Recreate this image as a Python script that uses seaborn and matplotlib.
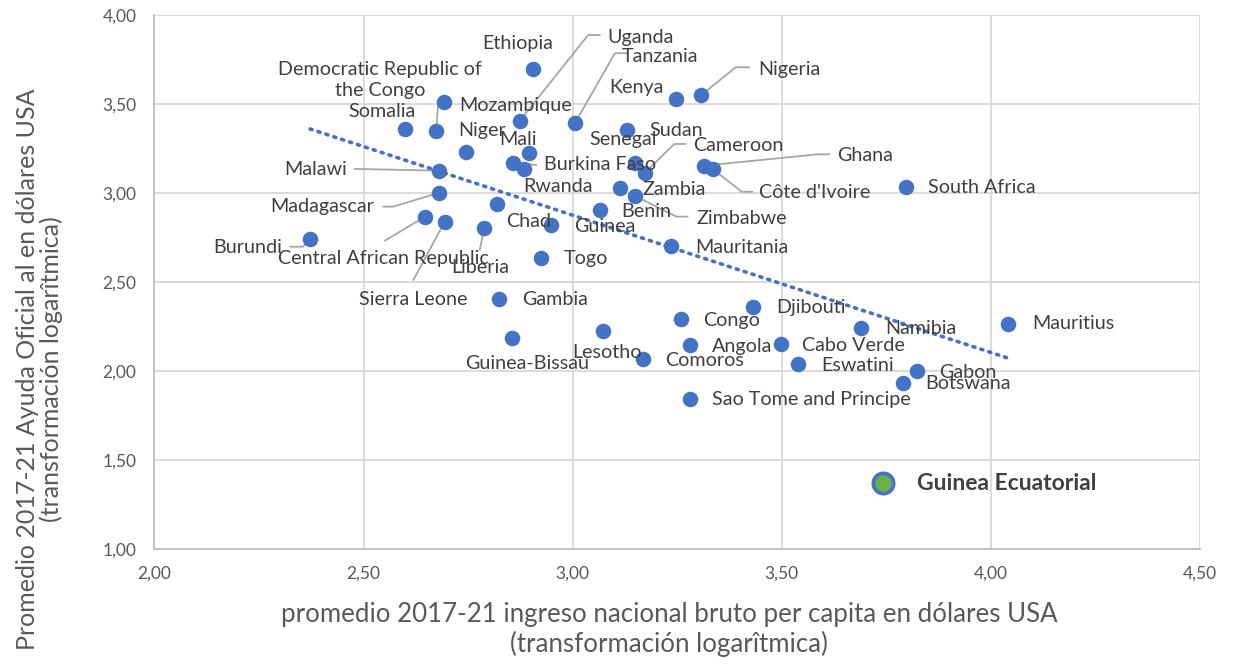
import numpy as np
import pandas as pd
import matplotlib
matplotlib.use("Agg")
import matplotlib.pyplot as plt
from matplotlib.ticker import FuncFormatter
import seaborn as sns

# ---------------- data ----------------
countries = ["Ethiopia", "Democratic Republic of\nthe Congo", "Somalia", "Mozambique", "Uganda",
             "Tanzania", "Sudan", "Kenya", "Nigeria", "Niger", "Mali", "Burkina Faso", "Rwanda",
             "Senegal", "Cameroon", "Ghana", "Côte d'Ivoire", "Malawi", "Madagascar", "Zambia",
             "Zimbabwe", "South Africa", "Chad", "Benin", "Central African Republic",
             "Sierra Leone", "Burundi", "Liberia", "Guinea", "Togo", "Mauritania", "Gambia",
             "Djibouti", "Congo", "Lesotho", "Namibia", "Mauritius", "Guinea-Bissau", "Angola",
             "Cabo Verde", "Comoros", "Eswatini", "Gabon", "Botswana", "Sao Tome and Principe"]
gni_log = [2.905, 2.693, 2.599, 2.674, 2.873,
           3.006, 3.129, 3.248, 3.307, 2.745, 2.895, 2.858, 2.883,
           3.149, 3.172, 3.314, 3.335, 2.681, 2.681, 3.113,
           3.149, 3.797, 2.818, 3.065, 2.647,
           2.694, 2.372, 2.788, 2.949, 2.925, 3.234, 2.824,
           3.431, 3.260, 3.073, 3.690, 4.040, 2.856, 3.280,
           3.497, 3.167, 3.538, 3.823, 3.791, 3.280]
oda_log = [3.698, 3.511, 3.363, 3.350, 3.406,
           3.397, 3.356, 3.529, 3.551, 3.233, 3.228, 3.172, 3.137,
           3.168, 3.114, 3.155, 3.136, 3.127, 3.003, 3.028,
           2.985, 3.034, 2.938, 2.904, 2.869,
           2.840, 2.742, 2.807, 2.822, 2.638, 2.706, 2.406,
           2.363, 2.292, 2.226, 2.245, 2.266, 2.185, 2.148,
           2.153, 2.067, 2.041, 2.002, 1.936, 1.843]

highlight_country = ["Guinea Ecuatorial"]
highlight_gni = [3.741]
highlight_oda = [1.371]

x_ticks = [2.0, 2.5, 3.0, 3.5, 4.0, 4.5]
y_ticks = [1.0, 1.5, 2.0, 2.5, 3.0, 3.5, 4.0]

x_title = "promedio 2017-21 ingreso nacional bruto per capita en dólares USA\n(transformación logarîtmica)"
y_title = "Promedio 2017-21 Ayuda Oficial al en dólares USA\n(transformación logarîtmica)"

# ---------------- label layout (text centre, optional leader elbows) ----------------
label_pos = {
    "Ethiopia": (2.869, 3.839),
    "Democratic Republic of\nthe Congo": (2.539, 3.636),
    "Somalia": (2.544, 3.462),
    "Mozambique": (2.864, 3.496),
    "Uganda": (3.163, 3.878),
    "Tanzania": (3.208, 3.771),
    "Sudan": (3.247, 3.350),
    "Kenya": (3.153, 3.597),
    "Nigeria": (3.517, 3.698),
    "Niger": (2.783, 3.350),
    "Mali": (2.869, 3.300),
    "Burkina Faso": (3.065, 3.159),
    "Rwanda": (2.964, 3.037),
    "Senegal": (3.120, 3.300),
    "Cameroon": (3.397, 3.266),
    "Ghana": (3.698, 3.210),
    "Côte d'Ivoire": (3.579, 3.007),
    "Malawi": (2.386, 3.136),
    "Madagascar": (2.400, 2.923),
    "Zambia": (3.242, 3.024),
    "Zimbabwe": (3.404, 2.861),
    "South Africa": (3.978, 3.030),
    "Chad": (2.895, 2.840),
    "Benin": (3.177, 2.896),
    "Central African Republic": (2.548, 2.635),
    "Sierra Leone": (2.618, 2.405),
    "Burundi": (2.223, 2.698),
    "Liberia": (2.778, 2.582),
    "Guinea": (3.077, 2.816),
    "Togo": (3.031, 2.631),
    "Mauritania": (3.404, 2.693),
    "Gambia": (2.959, 2.405),
    "Djibouti": (3.569, 2.361),
    "Congo": (3.380, 2.283),
    "Lesotho": (3.081, 2.104),
    "Namibia": (3.832, 2.238),
    "Mauritius": (4.198, 2.266),
    "Guinea-Bissau": (2.891, 2.041),
    "Angola": (3.406, 2.137),
    "Cabo Verde": (3.672, 2.143),
    "Comoros": (3.315, 2.059),
    "Eswatini": (3.681, 2.030),
    "Gabon": (3.946, 1.991),
    "Botswana": (3.946, 1.929),
    "Sao Tome and Principe": (3.571, 1.839),
}
leaders = {
    "Mozambique": [(2.678, 3.500), (2.706, 3.500)],
    "Uganda": [(3.037, 3.889), (3.065, 3.889)],
    "Tanzania": [(3.101, 3.787), (3.129, 3.787)],
    "Nigeria": [(3.390, 3.708), (3.422, 3.708)],
    "Cameroon": [(3.243, 3.277), (3.270, 3.277)],
    "Burkina Faso": [(2.913, 3.159)],
    "Ghana": [(3.586, 3.219), (3.614, 3.219)],
    "Côte d'Ivoire": [(3.404, 3.009), (3.430, 3.009)],
    "Zimbabwe": [(3.248, 2.869), (3.275, 2.869)],
    "Malawi": [(2.479, 3.137)],
    "Madagascar": [(2.571, 2.925), (2.547, 2.925)],
    "Burundi": [(2.355, 2.700), (2.324, 2.700)],
    "Central African Republic": [(2.551, 2.734)],
    "Sierra Leone": [(2.619, 2.513)],
    "Liberia": [(2.778, 2.681)],
}

# ---------------- style ----------------
sns.set_theme(style="white")
plt.rcParams["font.family"] = ["Lato", "DejaVu Sans"]

BLUE = "#4472C4"
GREEN = "#70AD47"
TXT = "#404040"
AXTXT = "#595959"
GRID = "#D9D9D9"

fig = plt.figure(figsize=(12.33, 6.65), dpi=100)
ax = fig.add_axes([0.1253, 0.1740, 0.8479, 0.8030])

df = pd.DataFrame({"country": countries, "gni": gni_log, "oda": oda_log})
hdf = pd.DataFrame({"country": highlight_country, "gni": highlight_gni, "oda": highlight_oda})
all_df = pd.concat([df, hdf], ignore_index=True)

# leader lines
pts = dict(zip(countries, zip(gni_log, oda_log)))
for name, elbows in leaders.items():
    xs = [pts[name][0]] + [e[0] for e in elbows]
    ys = [pts[name][1]] + [e[1] for e in elbows]
    ax.plot(xs, ys, color="#A6A6A6", lw=1.3, zorder=2)

# linear trend over all countries
sns.regplot(data=all_df, x="gni", y="oda", scatter=False, ci=None, ax=ax,
            line_kws=dict(color=BLUE, lw=2.6, ls=(0, (0.6, 1.7)),
                          dash_capstyle="round", zorder=2))
sns.scatterplot(data=df, x="gni", y="oda", s=125, color=BLUE, edgecolor=BLUE,
                linewidth=0, ax=ax, zorder=3, legend=False)
sns.scatterplot(data=hdf, x="gni", y="oda", s=215, color=GREEN, edgecolor=BLUE,
                linewidth=2.6, ax=ax, zorder=4, legend=False)

for name in countries:
    lx, ly = label_pos[name]
    ax.text(lx, ly, name, ha="center", va="center", fontsize=14.2, color=TXT,
            linespacing=1.3, zorder=5, multialignment="center")
ax.text(highlight_gni[0] + 0.296, highlight_oda[0] - 0.004, highlight_country[0],
        ha="center", va="center", fontsize=16.5, fontweight="bold", color=TXT, zorder=5)

ax.set_xlim(x_ticks[0], x_ticks[-1])
ax.set_ylim(y_ticks[0], y_ticks[-1])
ax.set_xticks(x_ticks)
ax.set_yticks(y_ticks)
fmt = FuncFormatter(lambda v, p: f"{v:.2f}".replace(".", ","))
ax.xaxis.set_major_formatter(fmt)
ax.yaxis.set_major_formatter(fmt)
ax.tick_params(axis="both", length=0, labelsize=12.5, colors=AXTXT)
ax.tick_params(axis="x", pad=12)
ax.tick_params(axis="y", pad=13)
ax.grid(True, color=GRID, lw=1.3)
ax.set_axisbelow(True)
for s in ["top", "right"]:
    ax.spines[s].set_visible(False)
for s in ["left", "bottom"]:
    ax.spines[s].set_color("#BFBFBF")
    ax.spines[s].set_linewidth(1.3)
ax.set_xlabel("")
ax.set_ylabel("")

fig.text(0.5426, 0.0535, x_title, ha="center", va="center", fontsize=18.6,
         color=AXTXT, linespacing=1.2)
fig.text(0.032, 0.445, y_title, ha="center", va="center", fontsize=18.0,
         color=AXTXT, rotation=90, linespacing=1.05)

fig.savefig("out.png", dpi=100)
